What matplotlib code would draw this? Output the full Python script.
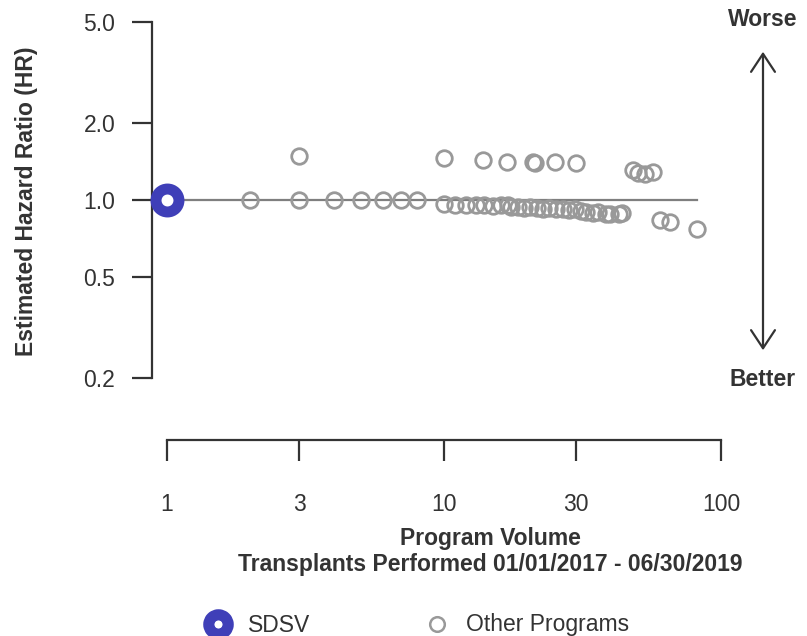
import matplotlib
matplotlib.use("Agg")
import matplotlib.pyplot as plt
from matplotlib.lines import Line2D
from matplotlib.patches import FancyArrowPatch

plt.rcParams['font.family'] = ['Liberation Sans', 'DejaVu Sans']

# ---- data ----
sdsv_volume = [1]
sdsv_hr = [1.0]

other_volume = [2, 3, 3, 4, 5, 6, 7, 8, 10, 10,
                11, 12, 13, 14, 15, 16, 17, 17.5, 18.5, 19.4, 20.4, 21.7, 22.8, 23.9,
                25.4, 26.9, 28.3, 29.7, 31.2, 32.6, 34.5, 36, 38.4, 39.7, 42.8, 44,
                13.8, 16.9, 20.9, 21.3, 25.2, 29.9,
                48, 50, 53, 57,
                60, 65.5, 82]
other_hr = [1.0, 1.0, 1.49, 1.0, 1.0, 1.0, 1.0, 1.0, 0.965, 1.46,
            0.955, 0.96, 0.955, 0.955, 0.95, 0.955, 0.955, 0.94, 0.94, 0.93, 0.94, 0.93, 0.92, 0.93,
            0.92, 0.92, 0.91, 0.92, 0.905, 0.90, 0.89, 0.90, 0.88, 0.88, 0.88, 0.89,
            1.435, 1.41, 1.41, 1.40, 1.41, 1.40,
            1.31, 1.28, 1.27, 1.29,
            0.835, 0.82, 0.77]

ref_x = [1, 82]
ref_y = [1.0, 1.0]

y_ticks = [0.2, 0.5, 1.0, 2.0, 5.0]
y_ticklabels = ['0.2', '0.5', '1.0', '2.0', '5.0']
x_ticks = [1, 3, 10, 30, 100]
x_ticklabels = ['1', '3', '10', '30', '100']

W, H = 807, 636
fig = plt.figure(figsize=(W / 100, H / 100), dpi=100)
ax = fig.add_axes([167 / W, (H - 378) / H, (721 - 167) / W, (378 - 22) / H])
ax.set_xscale('log')
ax.set_yscale('log')
ax.set_xlim(1, 100)
ax.set_ylim(0.2, 5.0)

axis_col = '#333333'
grey = '#999999'
blue = '#3f3fb8'
fs = 16.5

ax.plot(ref_x, ref_y, color='#7f7f7f', lw=1.6, zorder=1, clip_on=False)
ax.plot(other_volume, other_hr, ls='none', marker='o', ms=11.2, mfc='none',
        mec=grey, mew=2.0, zorder=2, clip_on=False)
ax.plot(sdsv_volume, sdsv_hr, ls='none', marker='o', ms=16.5, mfc='white',
        mec=blue, mew=7.9, zorder=3, clip_on=False)

for s in ['top', 'right']:
    ax.spines[s].set_visible(False)
ax.spines['left'].set_position(('outward', 10.8))
ax.spines['bottom'].set_position(('outward', 44.6))
for s in ['left', 'bottom']:
    ax.spines[s].set_color(axis_col)
    ax.spines[s].set_linewidth(1.6)

ax.set_yticks(y_ticks)
ax.set_yticklabels(y_ticklabels)
ax.set_xticks(x_ticks)
ax.set_xticklabels(x_ticklabels)
ax.minorticks_off()
ax.tick_params(axis='y', length=14.4, width=1.6, color=axis_col, labelcolor=axis_col,
               labelsize=fs, pad=12)
ax.tick_params(axis='x', length=15, width=1.6, color=axis_col, labelcolor=axis_col,
               labelsize=fs, pad=23)

fig.text(27 / W, 1 - 201 / H, 'Estimated Hazard Ratio (HR)', rotation=90,
         ha='center', va='center', fontsize=fs, fontweight='bold', color=axis_col)

fig.text(490 / W, 1 - 538 / H, 'Program Volume', ha='center', va='center',
         fontsize=fs, fontweight='bold', color=axis_col)
fig.text(490 / W, 1 - 565 / H, 'Transplants Performed 01/01/2017 - 06/30/2019',
         ha='center', va='center', fontsize=fs, fontweight='bold', color=axis_col)

fig.text(763 / W, 1 - 20 / H, 'Worse', ha='center', va='center', fontsize=fs,
         fontweight='bold', color=axis_col)
fig.text(763 / W, 1 - 380 / H, 'Better', ha='center', va='center', fontsize=fs,
         fontweight='bold', color=axis_col)
fig.add_artist(FancyArrowPatch(
    (763 / W, 1 - 353 / H), (763 / W, 1 - 49 / H), transform=fig.transFigure,
    arrowstyle='<->,head_length=0.65,head_width=0.43', color=axis_col, lw=1.6,
    mutation_scale=20))

# legend
fig.add_artist(Line2D([218 / W], [1 - 624 / H], transform=fig.transFigure, ls='none',
                      marker='o', ms=14, mfc='white', mec=blue, mew=8))
fig.text(248 / W, 1 - 625 / H, 'SDSV', ha='left', va='center', fontsize=fs,
         color=axis_col)
fig.add_artist(Line2D([437 / W], [1 - 624 / H], transform=fig.transFigure, ls='none',
                      marker='o', ms=10.5, mfc='none', mec=grey, mew=1.8))
fig.text(466 / W, 1 - 625 / H, 'Other Programs', ha='left', va='center', fontsize=fs,
         color=axis_col)

fig.savefig('out.png', dpi=100)
